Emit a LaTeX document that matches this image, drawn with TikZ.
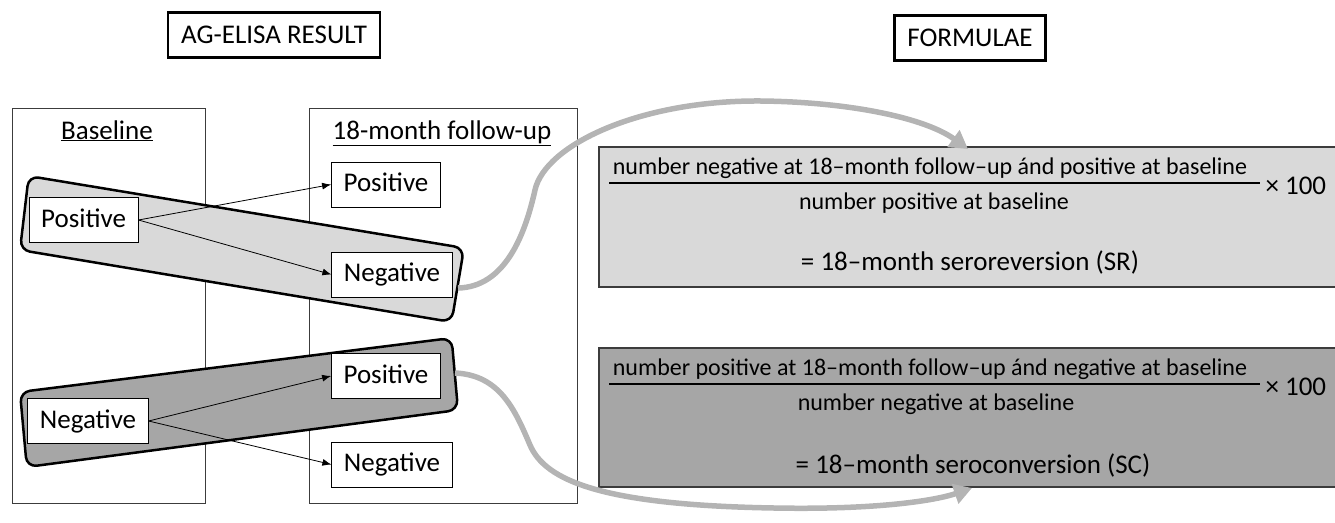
\documentclass[tikz,border=0pt]{standalone}
\usepackage{fontspec}
\setmainfont{Carlito}
\usetikzlibrary{arrows.meta,positioning}
\definecolor{LightBand}{RGB}{217, 217, 217}
\definecolor{DarkBand}{RGB}{166, 166, 166}
\definecolor{CurveGray}{RGB}{180, 180, 180}
\definecolor{FrameGray}{RGB}{60, 60, 60}

\begin{document}
\begin{tikzpicture}[x=1pt, y=-1pt,
    every node/.style={font=\fontsize{27}{32}\selectfont},
    titlebox/.style={draw, line width=2.8pt, inner xsep=13pt, minimum height=45},
    resultbox/.style={draw, line width=1pt, fill=white, inner xsep=12pt, minimum height=45, text height=19pt, text depth=5pt},
    bandshape/.style={draw, line width=2.5pt, rounded corners=10pt},
    pickarrow/.style={line width=0.8pt, -{Latex[length=9pt, width=7pt]}},
    flowcurve/.style={CurveGray, line width=5.5pt, -{Triangle[length=18pt, width=20pt]}},
    formtext/.style={font=\fontsize{24}{29}\selectfont}]
          \useasboundingbox (0,0) rectangle (1335,522);
          % Headings
          \node[titlebox] (agtitle) at (274,35) {AG-ELISA RESULT};
          \node[titlebox] (formtitle) at (970,38) {FORMULAE};
          % Result columns
          \draw[FrameGray, line width=1pt] (12.6,108) rectangle (205,503);
          \draw[FrameGray, line width=1pt] (309,108) rectangle (577,503);
          \node[anchor=base] (hdbase) at (107,139) {\underline{Baseline}};
          \node[anchor=base] (hdfollow) at (442,139) {\underline{18-month follow-up}};
          % Highlight bands
          \draw[bandshape, fill=LightBand] (28.7,176) -- (464,248) -- (451.6,322) -- (20,250) -- cycle;
          \draw[bandshape, fill=DarkBand] (20,392) -- (451.6,338) -- (458,410) -- (26.8,467) -- cycle;
          % Result boxes
          \node[resultbox] (posbase) at (83.6,220) {Positive};
          \node[resultbox] (negbase) at (88,421) {Negative};
          \node[resultbox] (posfuA) at (386,184.5) {Positive};
          \node[resultbox] (negfuA) at (392,274.5) {Negative};
          \node[resultbox] (posfuB) at (386,376) {Positive};
          \node[resultbox] (negfuB) at (392,464.5) {Negative};
          \draw[pickarrow] (posbase.east) -- (posfuA.west);
          \draw[pickarrow] (posbase.east) -- (negfuA.west);
          \draw[pickarrow] (negbase.east) -- (posfuB.west);
          \draw[pickarrow] (negbase.east) -- (negfuB.west);
          % Seroreversion formula
          \fill[LightBand] (599,147) rectangle (1335,287);
          \draw[FrameGray, line width=1.5pt] (1335,147) -- (599,147) -- (599,287) -- (1335,287);
          \node[formtext] (srnum) at (930,168) {number negative at 18–month follow–up ánd positive at baseline};
          \draw[line width=1.5pt] (609,183) -- (1260,183);
          \node[formtext] (srden) at (934,203) {number positive at baseline};
          \node[anchor=west] (srtimes) at (1262,186) {× 100};
          \node (srres) at (970,262) {= 18–month seroreversion (SR)};
          % Seroconversion formula
          \fill[DarkBand] (599,348) rectangle (1335,487);
          \draw[FrameGray, line width=1.5pt] (1335,348) -- (599,348) -- (599,487) -- (1335,487);
          \node[formtext] (scnum) at (930,369) {number positive at 18–month follow–up ánd negative at baseline};
          \draw[line width=1.5pt] (609,384) -- (1260,384);
          \node[formtext] (scden) at (936,404) {number negative at baseline};
          \node[anchor=west] (sctimes) at (1262,387) {× 100};
          \node (scres) at (973,465) {= 18–month seroconversion (SC)};
          % Links to formulae
          \coordinate (srstart) at (458,288);
          \coordinate (srend) at (968,149);
          \coordinate (scstart) at (455,373);
          \coordinate (scend) at (972,488);
          \draw[flowcurve] (srstart) .. controls (505,287) and (525,235) .. (535,190) .. controls (545,145) and (640,100) .. (761,101) .. controls (850,102) and (925,118) .. (srend);
          \draw[flowcurve] (scstart) .. controls (500,375) and (515,410) .. (530,445) .. controls (545,480) and (600,505) .. (774,508) .. controls (880,510) and (937,500) .. (scend);
        \end{tikzpicture}
\end{document}
